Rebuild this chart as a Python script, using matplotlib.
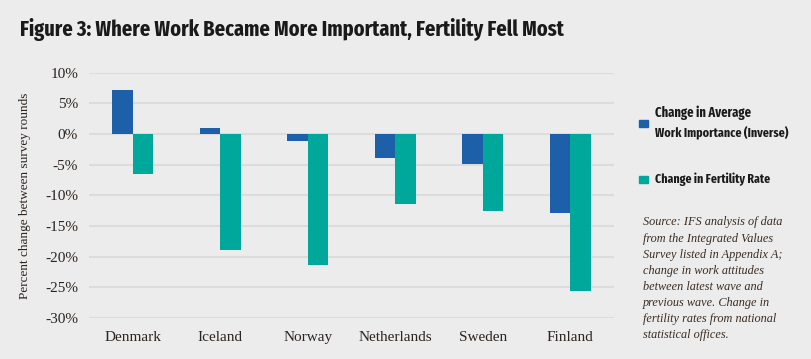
import numpy as np
import matplotlib
matplotlib.use('Agg')
import matplotlib.pyplot as plt
from matplotlib.patches import Rectangle
from matplotlib import font_manager as fm

countries = ['Denmark', 'Iceland', 'Norway', 'Netherlands', 'Sweden', 'Finland']
work_change = [7.2, 1.0, -1.2, -3.9, -4.9, -12.9]
fertility_change = [-6.5, -18.9, -21.4, -11.4, -12.5, -25.6]
yticks = [10, 5, 0, -5, -10, -15, -20, -25, -30]

BG = '#ececec'
BLUE = '#1d5fa9'
TEAL = '#00a79b'
TXT = '#2b2420'
SERIF = ['Liberation Serif', 'DejaVu Serif']


def pick_condensed():
    # narrowest bold face that is installed
    best = None
    for f in fm.fontManager.ttflist:
        tag = (f.name + ' ' + f.fname).lower().replace(' ', '').replace('-', '')
        if 'italic' in tag or 'oblique' in tag:
            continue
        if 'extracondensed' in tag:
            rank = 3
        elif 'semicondensed' in tag:
            rank = 1
        elif 'condensed' in tag or 'narrow' in tag:
            rank = 2
        else:
            continue
        w = f.weight if isinstance(f.weight, int) else {'bold': 700, 'normal': 400}.get(f.weight, 400)
        if 'bold' in tag and 'extrabold' not in tag and 'semibold' not in tag:
            w = 700
        score = rank * 1000 - abs(w - 700)
        if best is None or score > best[0]:
            best = (score, f.fname)
    return best[1] if best else None


cond_file = pick_condensed()


def cfont(size):
    if cond_file:
        return fm.FontProperties(fname=cond_file, size=size)
    return fm.FontProperties(family='Liberation Sans', weight='bold', size=size)


fig = plt.figure(figsize=(8.11, 3.59), dpi=100, facecolor=BG)
ax = fig.add_axes([0.110, 0.1142, 0.647, 0.6833])
ax.set_facecolor(BG)

x = np.arange(len(countries))
w = 0.235
ax.bar(x - w / 2, work_change, w, color=BLUE, zorder=3)
ax.bar(x + w / 2, fertility_change, w, color=TEAL, zorder=3)

ax.set_xlim(-0.5, len(countries) - 0.5)
ax.set_ylim(-30, 10)
ax.set_yticks(yticks)
ax.set_yticklabels([f'{v}%' for v in yticks], family=SERIF, fontsize=11, color=TXT)
ax.set_xticks(x)
ax.set_xticklabels(countries, family=SERIF, fontsize=11, color=TXT)
ax.tick_params(length=0, pad=8)
ax.tick_params(axis='x', pad=9)
ax.grid(axis='y', color='#dcdcdc', lw=1.5, zorder=0)
for s in ax.spines.values():
    s.set_visible(False)
ax.set_ylabel('Percent change between survey rounds', family=SERIF, fontsize=9.5,
              color=TXT, labelpad=10)

# (text, x, y, width in px in the reference)
heads = [
    ('Figure 3: Where Work Became More Important, Fertility Fell Most', 0.025, 0.918, 543),
    ('Change in Average', 0.808, 0.685, 96),
    ('Work Importance (Inverse)', 0.808, 0.630, 133),
    ('Change in Fertility Rate', 0.808, 0.501, 115),
]
renderer = fig.canvas.get_renderer()
for s, tx, ty, width in heads:
    t = fig.text(tx, ty, s, fontproperties=cfont(12), color='#1a1a1a', va='center')
    bb = t.get_window_extent(renderer)
    t.set_fontsize(12 * width / bb.width)

# legend keys
fig.patches.append(Rectangle((0.788, 0.646), 0.0105, 0.021, transform=fig.transFigure,
                             color=BLUE))
fig.patches.append(Rectangle((0.788, 0.490), 0.0105, 0.021, transform=fig.transFigure,
                             color=TEAL))

source = ('Source: IFS analysis of data\nfrom the Integrated Values\n'
          'Survey listed in Appendix A;\nchange in work attitudes\n'
          'between latest wave and\nprevious wave. Change in\n'
          'fertility rates from national\nstatistical offices.')
fig.text(0.793, 0.397, source, family=SERIF, style='italic', fontsize=8.8,
         color='#3a2c22', va='top', linespacing=1.45)

fig.savefig('out.png', dpi=100, facecolor=BG)
